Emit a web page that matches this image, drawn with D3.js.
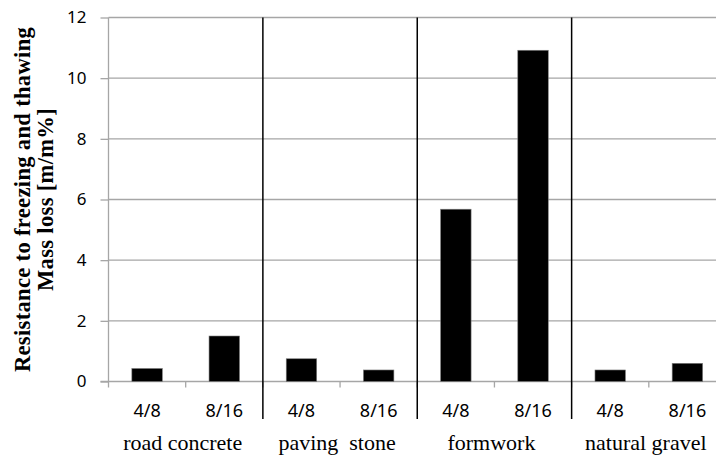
<!doctype html>
<html lang="en">
<head>
<meta charset="utf-8">
<title></title>
<script src="https://d3js.org/d3.v7.min.js"></script>
<style type="text/css">
  body { margin:0; background:#fff; }
  .grid line { stroke:#a6a6a6; stroke-width:1.3; }
  .ytick text { font-family:"Noto Sans", sans-serif; font-size:17px; fill:#000; }
  .xsize { font-family:"Noto Sans", sans-serif; font-size:18px; fill:#000; }
  .xgroup { font-family:"Liberation Serif", serif; font-size:22px; fill:#000; }
  .ytitle { font-family:"Liberation Serif", serif; font-size:22.5px; font-weight:bold; fill:#000; letter-spacing:0.35px; }
</style>
</head>
<body>
<script type="text/javascript">

  // data
  var groups = ["road concrete", "paving  stone", "formwork", "natural gravel"];
  var sizes  = ["4/8", "8/16"];
  var lossValues = [0.43, 1.5, 0.75, 0.38, 5.68, 10.92, 0.38, 0.6];
  var yTicks = [0, 2, 4, 6, 8, 10, 12];
  var titleLines = ["Resistance to freezing and thawing", "Mass loss [m/m%]"];

  var W = 716, H = 457;
  var margin = {left:108.5, right:726, top:17.5, bottom:381.5};

  var cats = [];
  groups.forEach((g, gi) => sizes.forEach((s, si) => cats.push({group:g, size:s, value:lossValues[gi*sizes.length+si], i:cats.length})));

  var x = d3.scaleBand()
    .domain(cats.map(d => d.i))
    .range([margin.left, margin.right])
    .padding(0);

  var y = d3.scaleLinear()
    .domain([0, 12])
    .range([margin.bottom, margin.top]);

  var svg = d3.select("body")
    .append("svg")
    .attr("width", W)
    .attr("height", H);

  // horizontal grid
  svg.append("g")
    .attr("class", "grid")
    .selectAll("line")
    .data(yTicks.filter(d => d > 0))
    .enter()
    .append("line")
    .attr("x1", margin.left)
    .attr("x2", margin.right)
    .attr("y1", d => y(d))
    .attr("y2", d => y(d));

  // y axis
  var yAxis = d3.axisLeft(y).tickValues(yTicks).tickSize(8).tickPadding(14);
  var yg = svg.append("g")
    .attr("class", "ytick")
    .attr("transform", "translate(" + margin.left + ",0)")
    .call(yAxis);
  yg.select(".domain").remove();
  yg.selectAll(".tick line").attr("stroke", "#a6a6a6").attr("stroke-width", 1.3);
  yg.append("line")
    .attr("x1", 0).attr("x2", 0)
    .attr("y1", margin.top).attr("y2", margin.bottom)
    .attr("stroke", "#a6a6a6").attr("stroke-width", 1.3);

  // x axis line + ticks at band boundaries
  svg.append("line")
    .attr("x1", margin.left - 8).attr("x2", margin.right)
    .attr("y1", margin.bottom).attr("y2", margin.bottom)
    .attr("stroke", "#a6a6a6").attr("stroke-width", 1.3);

  svg.selectAll(".xtick")
    .data(cats)
    .enter()
    .append("line")
    .attr("class", "xtick")
    .attr("x1", d => x(d.i)).attr("x2", d => x(d.i))
    .attr("y1", margin.bottom).attr("y2", margin.bottom + 6)
    .attr("stroke", "#a6a6a6").attr("stroke-width", 1.3);

  // bars
  var barW = x.bandwidth() * 0.395;
  svg.selectAll(".bar")
    .data(cats)
    .enter()
    .append("rect")
    .attr("class", "bar")
    .attr("x", d => x(d.i) + (x.bandwidth() - barW) / 2)
    .attr("y", d => y(d.value))
    .attr("width", barW)
    .attr("height", d => y(0) - y(d.value))
    .attr("fill", "#000")
    .attr("stroke", "#808080")
    .attr("stroke-width", 0.6);

  // group separators
  svg.selectAll(".sep")
    .data(cats.filter(d => d.i > 0 && d.i % sizes.length == 0))
    .enter()
    .append("line")
    .attr("class", "sep")
    .attr("x1", d => x(d.i)).attr("x2", d => x(d.i))
    .attr("y1", margin.top).attr("y2", 419)
    .attr("stroke", "#000").attr("stroke-width", 1.5);

  // size labels
  svg.selectAll(".xsize")
    .data(cats)
    .enter()
    .append("text")
    .attr("class", "xsize")
    .attr("x", d => x(d.i) + x.bandwidth() / 2)
    .attr("y", 417)
    .attr("text-anchor", "middle")
    .text(d => d.size);

  // group labels
  svg.selectAll(".xgroup")
    .data(groups)
    .enter()
    .append("text")
    .attr("class", "xgroup")
    .attr("x", (d, gi) => x(gi * sizes.length) + x.bandwidth() * sizes.length / 2 - 3)
    .attr("y", 450)
    .attr("text-anchor", "middle")
    .style("white-space", "pre")
    .text(d => d);

  // y title
  svg.selectAll(".ytitle")
    .data(titleLines)
    .enter()
    .append("text")
    .attr("class", "ytitle")
    .attr("text-anchor", "middle")
    .attr("transform", (d, i) => "translate(" + (30 + i * 23) + "," + ((margin.top + margin.bottom) / 2) + ") rotate(-90)")
    .text(d => d);

</script>
</body>
</html>
